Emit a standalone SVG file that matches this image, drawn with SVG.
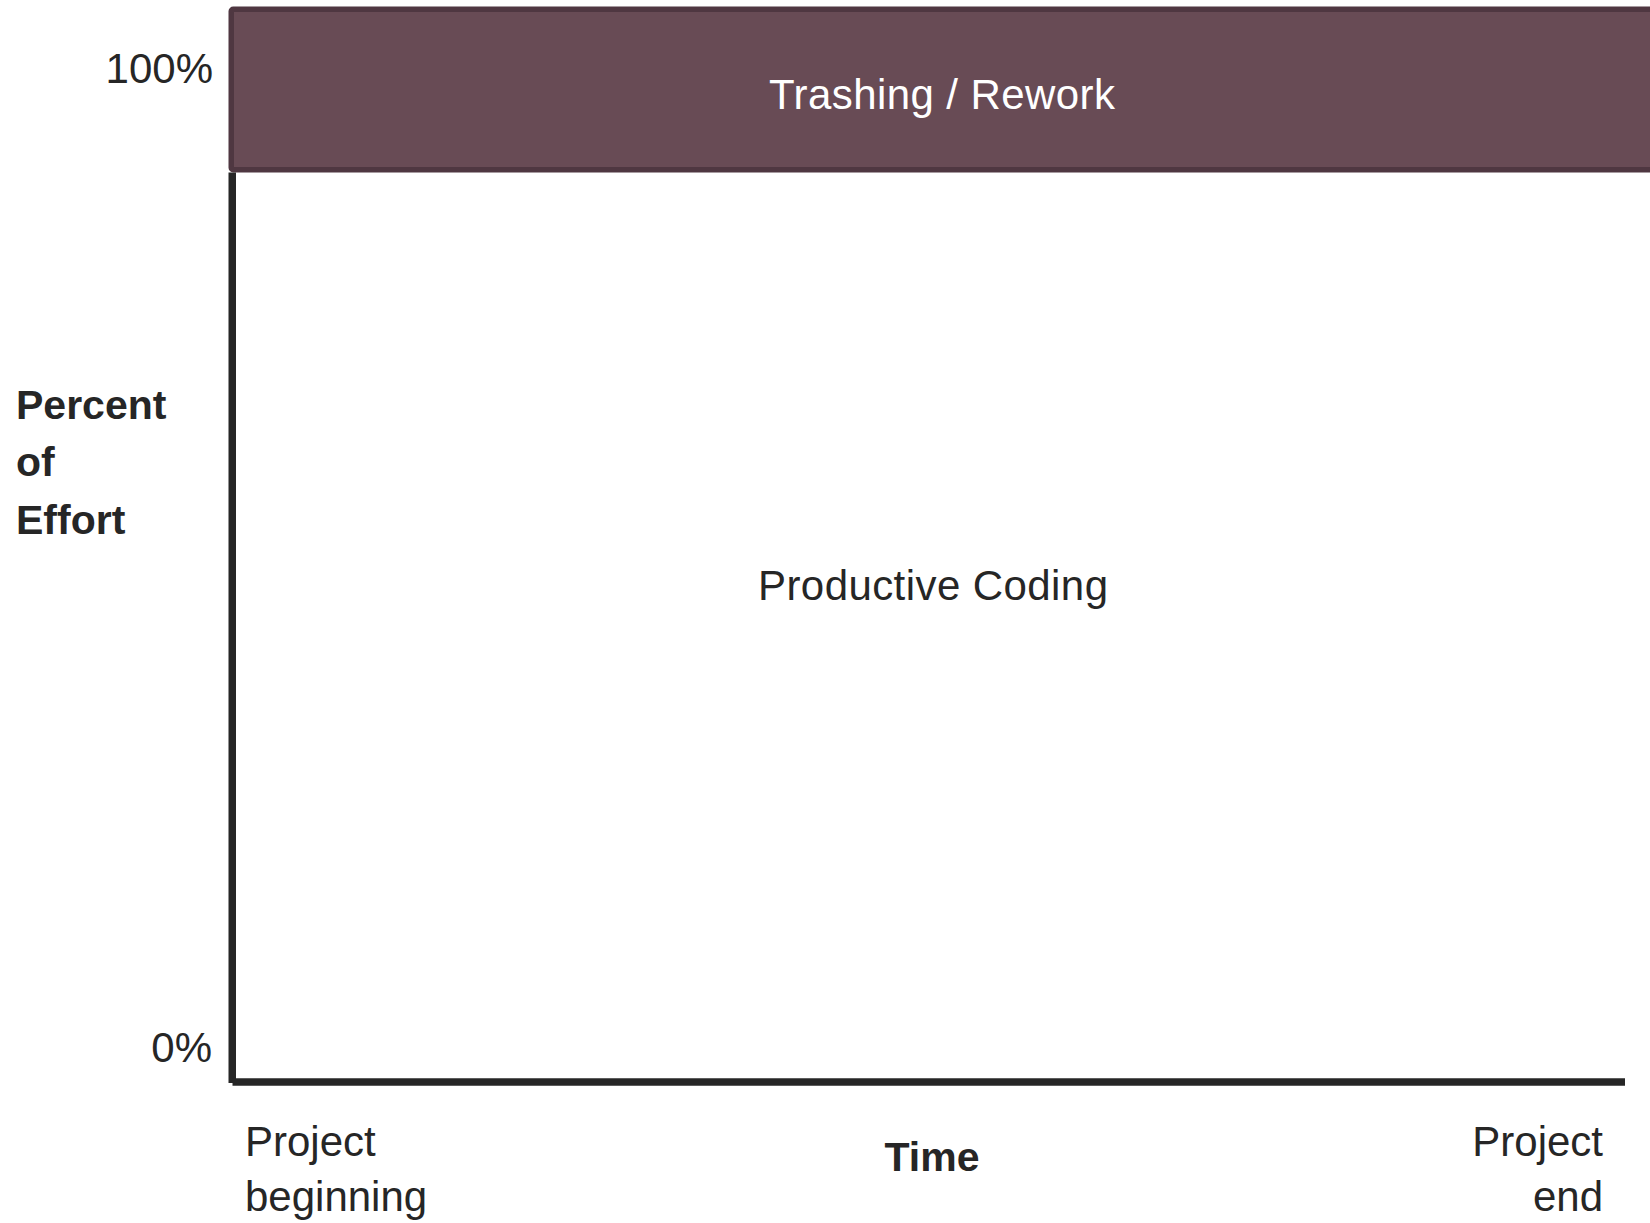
<svg xmlns="http://www.w3.org/2000/svg" width="1650" height="1223" viewBox="0 0 1650 1223">
<style>
.t{font-family:"Liberation Sans",Arial,sans-serif;fill:#262626;font-size:42px}
.b{font-weight:bold;font-size:41px}
.w{fill:#ffffff}
.ax{stroke:#262626;stroke-width:7.5;fill:none}
</style>
<rect width="1650" height="1223" fill="#ffffff"/>
<g id="trashing">
<rect x="231.25" y="9.25" width="1430" height="160.5" rx="2" fill="#684B55" stroke="#4F3741" stroke-width="5.5"/>
<text class="t w" x="942" y="109" text-anchor="middle" textLength="346" font-size="43">Trashing / Rework</text>
</g>
<g id="axes">
<line class="ax" x1="232.25" y1="172.5" x2="232.25" y2="1083"/>
<line class="ax" x1="232.5" y1="1082" x2="1625" y2="1082"/>
</g>
<g id="productive">
<text class="t" x="933" y="600" text-anchor="middle" textLength="350" font-size="43">Productive Coding</text>
</g>
<g id="labels">
<text class="t" x="213" y="83" text-anchor="end" font-size="41">100%</text>
<text class="t" x="212" y="1062" text-anchor="end" font-size="41">0%</text>
<text class="t b" x="16" y="419">Percent</text>
<text class="t b" x="16" y="476">of</text>
<text class="t b" x="16" y="534">Effort</text>
<text class="t b" x="932" y="1171" text-anchor="middle">Time</text>
<text class="t" x="245" y="1156">Project</text>
<text class="t" x="245" y="1211">beginning</text>
<text class="t" x="1603" y="1156" text-anchor="end">Project</text>
<text class="t" x="1603" y="1211" text-anchor="end">end</text>
</g>
</svg>
